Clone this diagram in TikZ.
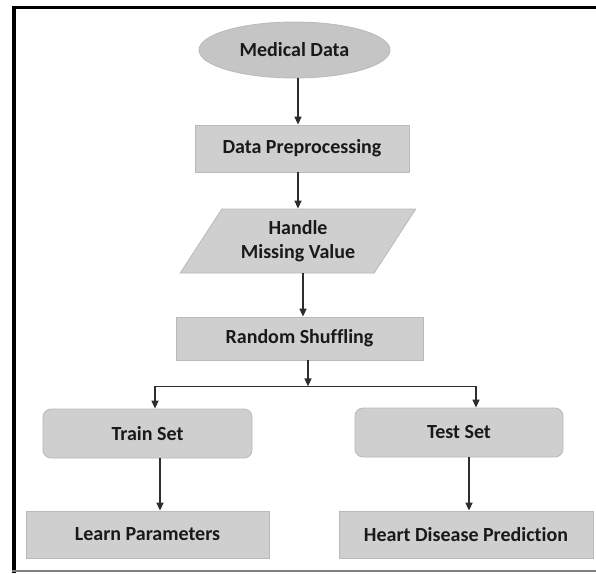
\documentclass[tikz,border=0pt]{standalone}
\usepackage{fontspec}
\setmainfont[Ligatures=CommonOff]{Carlito}
\usetikzlibrary{shapes.geometric,arrows.meta}
\definecolor{boxfill}{RGB}{207,207,207}
\definecolor{boxline}{RGB}{185,185,185}
\definecolor{arrcol}{RGB}{45,45,45}
\definecolor{txt}{RGB}{25,25,25}
\tikzset{
  lbl/.style={font=\bfseries\fontsize{20}{23}\selectfont, text=txt, align=center, inner sep=0pt},
  flatbox/.style={lbl, rectangle, fill=boxfill, draw=boxline, line width=0.8pt},
  roundbox/.style={lbl, rectangle, rounded corners=8pt, fill=boxfill, draw=boxline, line width=0.8pt},
  oval/.style={lbl, ellipse, fill=boxfill!95!black, draw=boxline, line width=0.8pt, inner sep=0pt},
  slanted/.style={lbl, trapezium, trapezium left angle=53, trapezium right angle=127, trapezium stretches=true, fill=boxfill, draw=boxline, line width=0.8pt},
  arr/.style={draw=arrcol, line width=1.5pt, -{Triangle[width=7pt,length=8pt]}},
  plain/.style={draw=arrcol, line width=1.5pt}
}
\begin{document}
\begin{tikzpicture}[x=1pt,y=-1pt]
\useasboundingbox (0,0) rectangle (596,573);
\fill[white] (0,0) rectangle (596,573);
% frame
\draw[line width=3pt, black] (13.5,7.5) -- (596,7.5);
\draw[line width=4pt, black] (13.5,6) -- (13.5,573);
\draw[line width=1.5pt, gray] (12,571) -- (596,571);
% nodes
\node[oval, minimum width=191pt, minimum height=56pt] (md) at (294.5,50) {Medical Data};
\node[flatbox, minimum width=214pt, minimum height=47pt] (dp) at (302,148.5) {Data Preprocessing};
\node[slanted, minimum width=236pt, minimum height=64pt] (hm) at (298,241) {Handle\\[1pt]Missing Value};
\node[flatbox, minimum width=247pt, minimum height=43pt] (rs) at (299.5,338.5) {Random Shuffling};
\node[roundbox, minimum width=209pt, minimum height=49pt] (tr) at (147.5,433.5) {Train Set};
\node[roundbox, minimum width=208pt, minimum height=49pt] (ts) at (459,432.5) {Test Set};
\node[flatbox, minimum width=243pt, minimum height=47pt] (lp) at (147.5,534.5) {Learn Parameters};
\node[flatbox, minimum width=254pt, minimum height=47pt] (hd) at (466,534.5) {Heart Disease Prediction};
% connectors
\draw[arr] ([xshift=3.5pt]md.south) -- ([xshift=3.5pt]md.south |- dp.north);
\draw[arr] ([xshift=-4pt]dp.south) -- ([xshift=-4pt]dp.south |- hm.north);
\draw[arr] ([xshift=5pt]hm.south) -- ([xshift=5pt]hm.south |- rs.north);
\coordinate (jn) at ([xshift=8.5pt,yshift=-26pt]rs.south);
\coordinate (jl) at ([xshift=7.5pt]tr.north |- jn);
\coordinate (jr) at ([xshift=17pt]ts.north |- jn);
\draw[arr] ([xshift=8.5pt]rs.south) -- (jn);
\draw[plain] (jl) -- (jr);
\draw[arr] (jl) -- (jl |- tr.north);
\draw[arr] (jr) -- (jr |- ts.north);
\draw[arr] ([xshift=12.5pt]tr.south) -- ([xshift=12.5pt]tr.south |- lp.north);
\draw[arr] ([xshift=10pt]ts.south) -- ([xshift=10pt]ts.south |- hd.north);
\end{tikzpicture}
\end{document}
